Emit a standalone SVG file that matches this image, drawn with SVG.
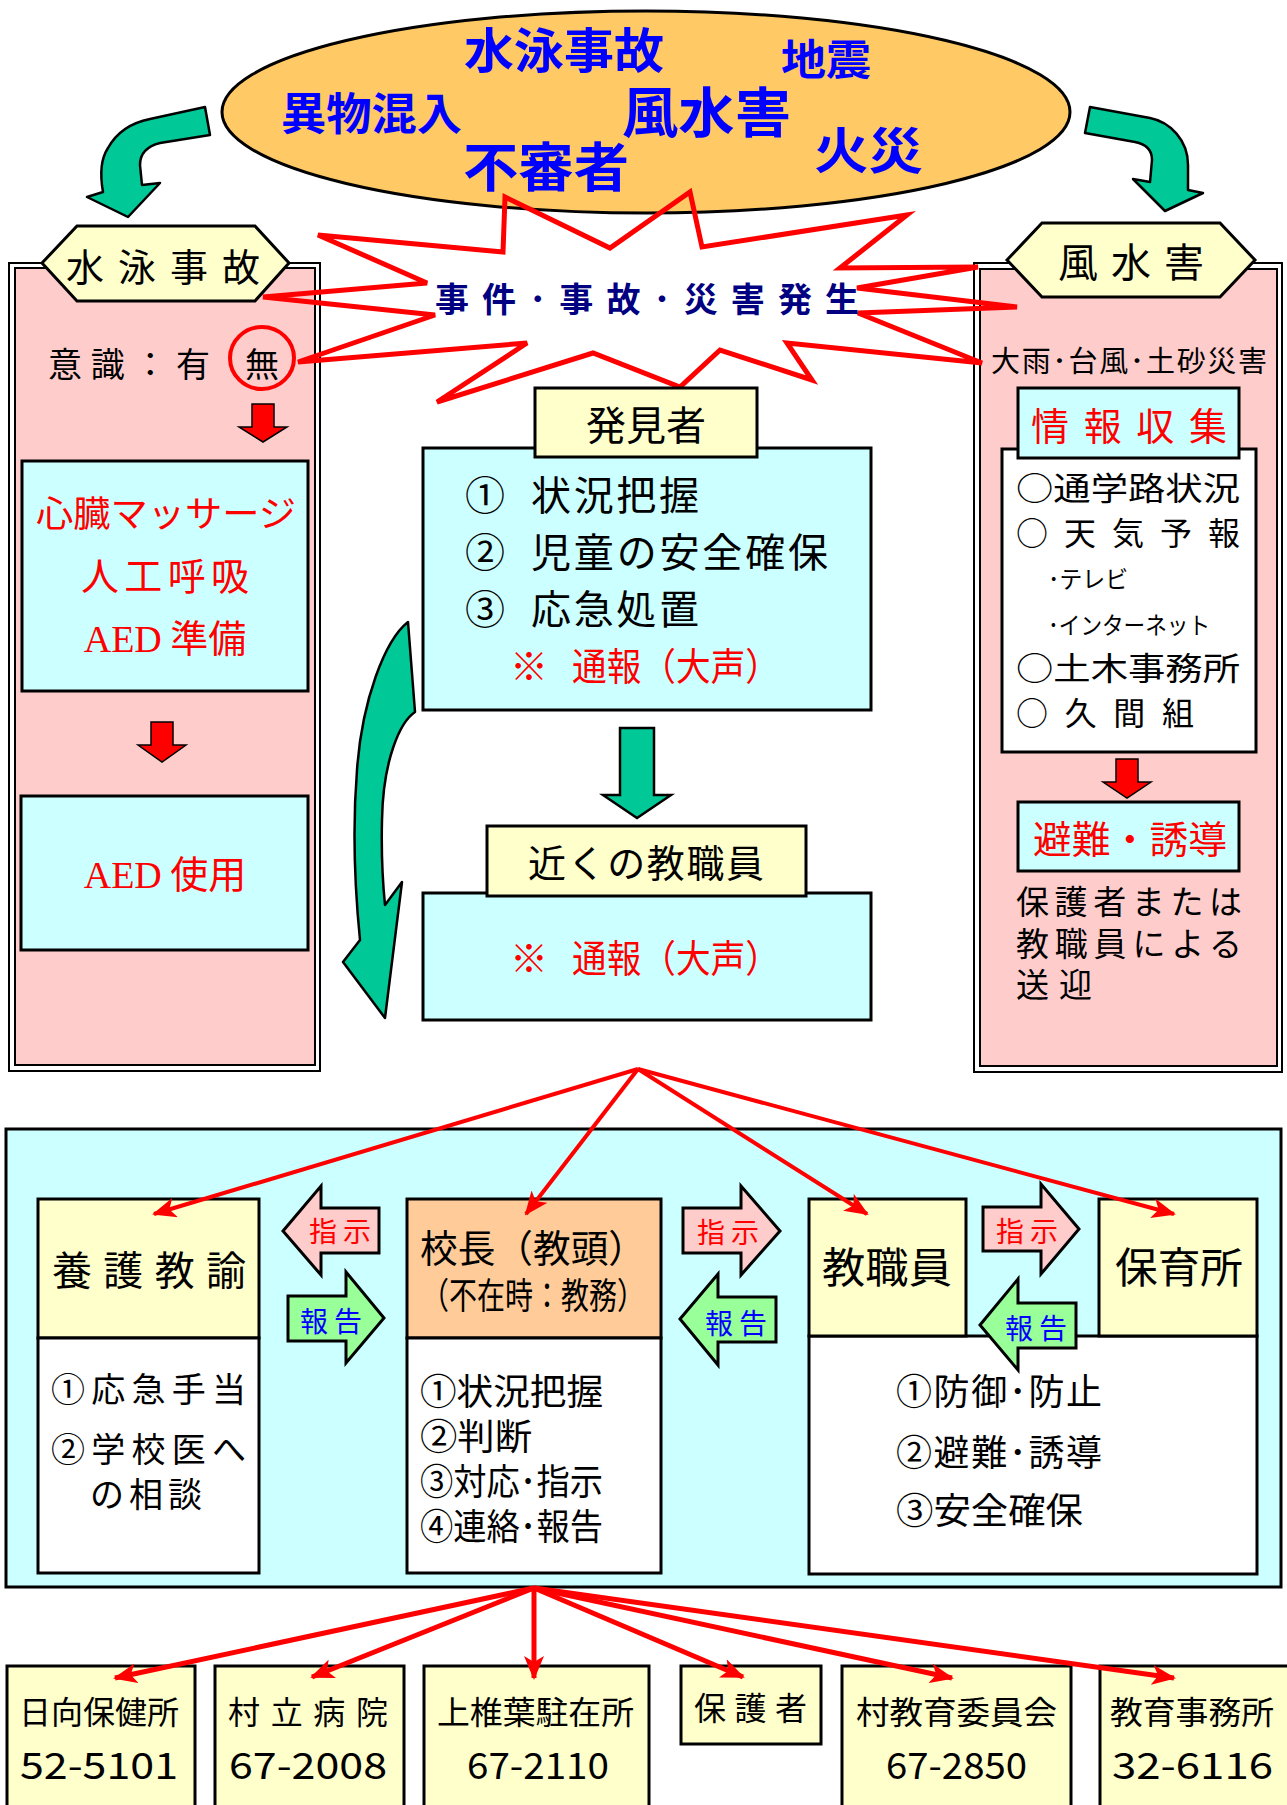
<svg xmlns="http://www.w3.org/2000/svg" width="1287" height="1805" viewBox="0 0 1287 1805">
<style>
text{font-family:"Noto Sans CJK JP","Noto Sans",sans-serif;}
.b{stroke:#000;stroke-width:3;}
.y{fill:#FFFFCC;}
.c{fill:#CCFFFF;}
.w{fill:#FFFFFF;}
.pk{fill:#FFCCCC;}
.g{fill:#00C896;stroke:#000;stroke-width:2.5;stroke-linejoin:round;}
.ra{fill:#FF0000;stroke:#000;stroke-width:1.5;}
.blue{fill:#0000FF;font-weight:bold;}
.red{fill:#FF0000;}
.blk{fill:#000;}
.ser{font-family:"Liberation Serif",serif;}
.con{stroke:#FF0000;fill:none;}
</style>
<defs>
<marker id="ah" markerUnits="userSpaceOnUse" viewBox="0 0 24 20" markerWidth="24" markerHeight="20" refX="22" refY="10" orient="auto">
<path d="M0,0 L24,10 L0,20 L6,10 Z" fill="#FF0000"/>
</marker>
</defs>
<rect width="1287" height="1805" fill="#fff"/>

<g id="hazards">
<ellipse cx="646" cy="112" rx="424" ry="101" fill="#FFC966" stroke="#000" stroke-width="3"/>
<text class="blue" x="464" y="68" font-size="48" textLength="200" lengthAdjust="spacingAndGlyphs">水泳事故</text>
<text class="blue" x="781" y="75" font-size="42" textLength="90" lengthAdjust="spacingAndGlyphs">地震</text>
<text class="blue" x="281" y="130" font-size="44" textLength="181" lengthAdjust="spacingAndGlyphs">異物混入</text>
<text class="blue" x="622" y="133" font-size="54" textLength="169" lengthAdjust="spacingAndGlyphs">風水害</text>
<text class="blue" x="463" y="187" font-size="53" textLength="166" lengthAdjust="spacingAndGlyphs">不審者</text>
<text class="blue" x="814" y="169" font-size="50" textLength="109" lengthAdjust="spacingAndGlyphs">火災</text>
</g>

<g id="curved-arrows">
<path class="g" d="M205,107 L210,135 L160,143 C148,146 140,152 140,165 L142,185 L160,183 L128,217 L87,197 L103,192 C100,175 100,160 108,148 C118,130 135,122 150,119 Z"/>
<path class="g" d="M1090,107 L1150,118 C1170,122 1188,140 1188,165 L1188,190 L1203,193 L1165,211 L1133,179 L1150,182 L1152,160 C1152,150 1146,144 1135,142 L1085,133 Z"/>
<path class="g" d="M408,622 L415,712 C400,722 383,760 382,820 C381,860 383,885 385,905 L402,882 L385,1018 L343,962 L360,940 C354,880 353,820 357,770 C362,700 385,640 408,622 Z"/>
</g>

<g id="panel-swim">
<rect x="9" y="263" width="311" height="808" fill="#fff" stroke="#000" stroke-width="2"/>
<rect class="pk" x="15" y="268" width="300" height="797" stroke="#000" stroke-width="2"/>
<polygon class="y b" points="42,263 77,226 255,226 289,263 255,301 77,301"/>
<text class="blk" x="66" y="281" font-size="38" textLength="194" lengthAdjust="spacing">水泳事故</text>
<text class="blk" x="48" y="377" font-size="34" textLength="162" lengthAdjust="spacing">意識：有</text>
<text class="blk" x="262" y="377" font-size="34" text-anchor="middle">無</text>
<ellipse cx="262" cy="358" rx="32" ry="31" fill="none" stroke="#FF0000" stroke-width="4"/>
<polygon class="ra" points="252,404 274,404 274,427 287,427 263,442 239,427 252,427"/>
<rect class="c b" x="22" y="461" width="286" height="230"/>
<text class="red" x="36" y="527" font-size="36" textLength="260" lengthAdjust="spacingAndGlyphs">心臓マッサージ</text>
<text class="red" x="165" y="590" font-size="38" text-anchor="middle" textLength="168" lengthAdjust="spacing">人工呼吸</text>
<text class="red" x="165" y="652" font-size="38" text-anchor="middle"><tspan class="ser">AED</tspan> 準備</text>
<polygon class="ra" points="151,722 173,722 173,745 186,745 162,762 138,745 151,745"/>
<rect class="c b" x="21" y="796" width="287" height="154"/>
<text class="red" x="165" y="888" font-size="38" text-anchor="middle"><tspan class="ser">AED</tspan> 使用</text>
</g>

<g id="panel-storm">
<rect x="974" y="263" width="308" height="809" fill="#fff" stroke="#000" stroke-width="2"/>
<rect class="pk" x="980" y="269" width="297" height="797" stroke="#000" stroke-width="2"/>
<polygon class="y b" points="1007,260 1042,223 1220,223 1255,260 1220,297 1042,297"/>
<text class="blk" x="1058" y="277" font-size="40" textLength="146" lengthAdjust="spacing">風水害</text>
<text class="blk" x="991" y="372" font-size="29" textLength="276" lengthAdjust="spacing">大雨･台風･土砂災害</text>
<rect class="w b" x="1002" y="449" width="254" height="303"/>
<rect class="c b" x="1018" y="388" width="221" height="70"/>
<text class="red" x="1031" y="440" font-size="38" textLength="196" lengthAdjust="spacing">情報収集</text>
<text class="blk" x="1016" y="500" font-size="32" textLength="224" lengthAdjust="spacingAndGlyphs">○通学路状況</text>
<text class="blk" x="1016" y="545" font-size="32" textLength="224" lengthAdjust="spacing">○ 天 気 予 報</text>
<text class="blk" x="1048" y="588" font-size="24" textLength="80" lengthAdjust="spacingAndGlyphs">･テレビ</text>
<text class="blk" x="1048" y="634" font-size="24" textLength="162" lengthAdjust="spacingAndGlyphs">･インターネット</text>
<text class="blk" x="1016" y="680" font-size="32" textLength="224" lengthAdjust="spacingAndGlyphs">○土木事務所</text>
<text class="blk" x="1016" y="725" font-size="32" textLength="178" lengthAdjust="spacing">○ 久 間 組</text>
<polygon class="ra" points="1116,759 1138,759 1138,782 1151,782 1127,798 1103,782 1116,782"/>
<rect class="c b" x="1018" y="802" width="221" height="69"/>
<text class="red" x="1033" y="853" font-size="38" textLength="194" lengthAdjust="spacingAndGlyphs">避難・誘導</text>
<text class="blk" x="1016" y="914" font-size="33" textLength="226" lengthAdjust="spacing">保護者または</text>
<text class="blk" x="1016" y="956" font-size="33" textLength="226" lengthAdjust="spacing">教職員による</text>
<text class="blk" x="1016" y="997" font-size="33" textLength="76" lengthAdjust="spacing">送迎</text>
</g>

<g id="incident">
<polygon points="505,197 610,248 690,192 702,247 907,215 840,268 978,267 857,288 1017,307 858,313 982,363 787,343 812,380 720,350 680,387 593,353 437,402 527,343 298,362 435,315 263,297 427,283 318,235 503,252" fill="none" stroke="#FF0000" stroke-width="5" stroke-linejoin="miter"/>
<text x="435" y="312" font-size="34" font-weight="bold" fill="#000080" textLength="424" lengthAdjust="spacing">事件･事故･災害発生</text>
</g>

<g id="finder">
<rect class="c b" x="423" y="448" width="448" height="262"/>
<rect class="y b" x="535" y="388" width="222" height="69"/>
<text class="blk" x="646" y="440" font-size="40" text-anchor="middle">発見者</text>
<text class="blk" x="465" y="510" font-size="40">①</text>
<text class="blk" x="531" y="510" font-size="40" textLength="168" lengthAdjust="spacing">状況把握</text>
<text class="blk" x="465" y="567" font-size="40">②</text>
<text class="blk" x="531" y="567" font-size="40" textLength="297" lengthAdjust="spacing">児童の安全確保</text>
<text class="blk" x="465" y="624" font-size="40">③</text>
<text class="blk" x="531" y="624" font-size="40" textLength="168" lengthAdjust="spacing">応急処置</text>
<text class="red" x="510" y="680" font-size="38">※</text>
<text class="red" x="572" y="680" font-size="38" textLength="208" lengthAdjust="spacingAndGlyphs">通報（大声）</text>
<polygon points="620,728 654,728 654,795 671,795 637,818 603,795 620,795" fill="#00C896" stroke="#000" stroke-width="2.5"/>
</g>

<g id="nearby-staff">
<rect class="c b" x="423" y="893" width="448" height="127"/>
<rect class="y b" x="487" y="826" width="319" height="70"/>
<text class="blk" x="528" y="877" font-size="38" textLength="236" lengthAdjust="spacing">近くの教職員</text>
<text class="red" x="510" y="972" font-size="38">※</text>
<text class="red" x="572" y="972" font-size="38" textLength="208" lengthAdjust="spacingAndGlyphs">通報（大声）</text>
</g>

<g id="school">
<rect class="c b" x="6" y="1129" width="1275" height="458"/>
</g>

<g id="nurse">
<rect class="y b" x="38" y="1199" width="221" height="139"/>
<rect class="w b" x="38" y="1338" width="221" height="235"/>
<text class="blk" x="52" y="1285" font-size="40" textLength="194" lengthAdjust="spacing">養護教諭</text>
<text class="blk" x="51" y="1402" font-size="34" textLength="195" lengthAdjust="spacing">①応急手当</text>
<text class="blk" x="51" y="1462" font-size="34" textLength="195" lengthAdjust="spacing">②学校医へ</text>
<text class="blk" x="90" y="1507" font-size="34" textLength="112" lengthAdjust="spacing">の相談</text>
</g>

<g id="principal">
<rect class="b" x="407" y="1199" width="254" height="139" fill="#FFCC99"/>
<rect class="w b" x="407" y="1338" width="254" height="235"/>
<text class="blk" x="420" y="1262" font-size="38" textLength="226" lengthAdjust="spacingAndGlyphs">校長（教頭）</text>
<text class="blk" x="421" y="1309" font-size="36" textLength="224" lengthAdjust="spacingAndGlyphs">（不在時：教務）</text>
<text class="blk" x="420" y="1405" font-size="36" textLength="183" lengthAdjust="spacingAndGlyphs">①状況把握</text>
<text class="blk" x="420" y="1450" font-size="36" textLength="112" lengthAdjust="spacingAndGlyphs">②判断</text>
<text class="blk" x="420" y="1495" font-size="36" textLength="183" lengthAdjust="spacingAndGlyphs">③対応･指示</text>
<text class="blk" x="420" y="1540" font-size="36" textLength="183" lengthAdjust="spacingAndGlyphs">④連絡･報告</text>
</g>

<g id="staff-nursery">
<rect class="w b" x="809" y="1336" width="448" height="238"/>
<rect class="y b" x="809" y="1199" width="157" height="137"/>
<rect class="y b" x="1099" y="1199" width="158" height="137"/>
<text class="blk" x="822" y="1283" font-size="42" textLength="130" lengthAdjust="spacingAndGlyphs">教職員</text>
<text class="blk" x="1115" y="1283" font-size="42" textLength="128" lengthAdjust="spacingAndGlyphs">保育所</text>
<text class="blk" x="896" y="1405" font-size="36" textLength="206" lengthAdjust="spacing">①防御･防止</text>
<text class="blk" x="896" y="1466" font-size="36" textLength="206" lengthAdjust="spacing">②避難･誘導</text>
<text class="blk" x="896" y="1524" font-size="36" textLength="187" lengthAdjust="spacingAndGlyphs">③安全確保</text>
</g>

<g id="instructions">
<polygon class="b" fill="#FFCCCC" points="283,1231 321,1186 321,1208 379,1208 379,1253 321,1253 321,1275"/>
<text class="red" x="309" y="1242" font-size="28" textLength="62" lengthAdjust="spacing">指示</text>
<polygon class="b" fill="#99FF99" points="288,1296 346,1296 346,1272 384,1318 346,1363 346,1341 288,1341"/>
<text fill="#0000FF" x="300" y="1332" font-size="28" textLength="62" lengthAdjust="spacing">報告</text>
<polygon class="b" fill="#FFCCCC" points="683,1208 741,1208 741,1186 780,1231 741,1275 741,1253 683,1253"/>
<text class="red" x="697" y="1243" font-size="28" textLength="62" lengthAdjust="spacing">指示</text>
<polygon class="b" fill="#99FF99" points="680,1319 718,1274 718,1297 776,1297 776,1342 718,1342 718,1365"/>
<text fill="#0000FF" x="705" y="1334" font-size="28" textLength="62" lengthAdjust="spacing">報告</text>
<polygon class="b" fill="#FFCCCC" points="983,1207 1041,1207 1041,1184 1079,1229 1041,1274 1041,1251 983,1251"/>
<text class="red" x="996" y="1242" font-size="28" textLength="62" lengthAdjust="spacing">指示</text>
<polygon class="b" fill="#99FF99" points="980,1325 1018,1279 1018,1303 1076,1303 1076,1348 1018,1348 1018,1370"/>
<text fill="#0000FF" x="1005" y="1339" font-size="28" textLength="62" lengthAdjust="spacing">報告</text>
</g>

<g id="contacts">
<g id="c1"><rect class="y b" x="7" y="1666" width="188" height="150"/>
<text class="blk" x="19" y="1724" font-size="32" textLength="160" lengthAdjust="spacingAndGlyphs">日向保健所</text>
<text class="blk" x="20" y="1779" font-size="37" textLength="158" lengthAdjust="spacingAndGlyphs">52-5101</text></g>
<g id="c2"><rect class="y b" x="215" y="1666" width="189" height="150"/>
<text class="blk" x="228" y="1724" font-size="32" textLength="160" lengthAdjust="spacing">村立病院</text>
<text class="blk" x="229" y="1779" font-size="37" textLength="158" lengthAdjust="spacingAndGlyphs">67-2008</text></g>
<g id="c3"><rect class="y b" x="424" y="1666" width="225" height="150"/>
<text class="blk" x="437" y="1724" font-size="32" textLength="197" lengthAdjust="spacingAndGlyphs">上椎葉駐在所</text>
<text class="blk" x="467" y="1779" font-size="37" textLength="142" lengthAdjust="spacingAndGlyphs">67-2110</text></g>
<g id="c4"><rect class="y b" x="681" y="1666" width="140" height="78"/>
<text class="blk" x="694" y="1720" font-size="32" textLength="113" lengthAdjust="spacing">保護者</text></g>
<g id="c5"><rect class="y b" x="842" y="1666" width="229" height="150"/>
<text class="blk" x="856" y="1724" font-size="32" textLength="201" lengthAdjust="spacingAndGlyphs">村教育委員会</text>
<text class="blk" x="886" y="1779" font-size="37" textLength="141" lengthAdjust="spacingAndGlyphs">67-2850</text></g>
<g id="c6"><rect class="y b" x="1100" y="1666" width="200" height="150"/>
<text class="blk" x="1110" y="1724" font-size="32" textLength="164" lengthAdjust="spacingAndGlyphs">教育事務所</text>
<text class="blk" x="1112" y="1779" font-size="37" textLength="161" lengthAdjust="spacingAndGlyphs">32-6116</text></g>
</g>

<g id="connectors">
<g class="con" stroke-width="4">
<line x1="638" y1="1069" x2="154" y2="1214" marker-end="url(#ah)"/>
<line x1="638" y1="1069" x2="526" y2="1214" marker-end="url(#ah)"/>
<line x1="638" y1="1069" x2="867" y2="1214" marker-end="url(#ah)"/>
<line x1="638" y1="1069" x2="1174" y2="1214" marker-end="url(#ah)"/>
</g>
<g class="con" stroke-width="5">
<line x1="534" y1="1588" x2="115" y2="1678" marker-end="url(#ah)"/>
<line x1="534" y1="1588" x2="312" y2="1677" marker-end="url(#ah)"/>
<line x1="534" y1="1588" x2="534" y2="1678" marker-end="url(#ah)"/>
<line x1="534" y1="1588" x2="743" y2="1677" marker-end="url(#ah)"/>
<line x1="534" y1="1588" x2="952" y2="1678" marker-end="url(#ah)"/>
<line x1="534" y1="1588" x2="1174" y2="1678" marker-end="url(#ah)"/>
</g>
</g>
</svg>
